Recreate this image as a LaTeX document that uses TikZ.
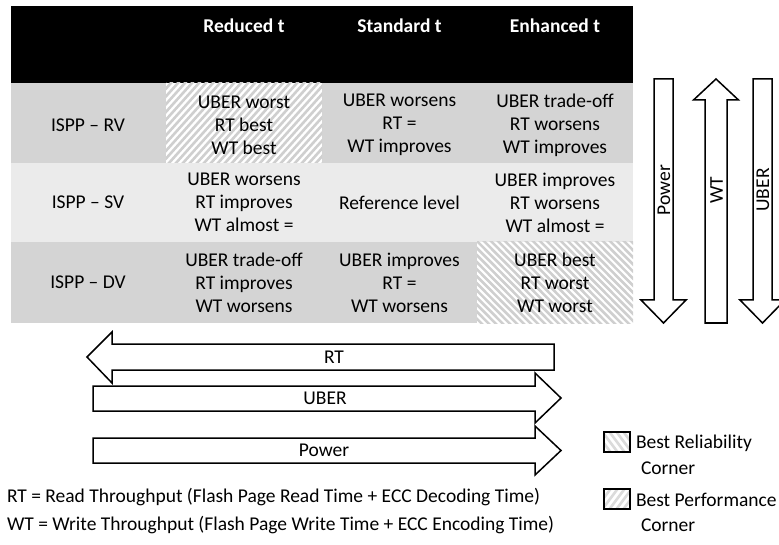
\documentclass[tikz,border=0pt]{standalone}
\usepackage{fontspec}
\setmainfont{Carlito}
\begin{document}
\begin{tikzpicture}[x=1pt,y=-1pt,
  every node/.style={inner sep=0pt,outer sep=0pt,font=\fontsize{19.5}{23}\selectfont},
  cell/.style={align=center},
  head/.style={text=white,font=\fontsize{19.5}{23}\selectfont\bfseries},
  bigarrow/.style={draw=black,line width=1.5pt,fill=white,line join=miter},
  stripe/.style={line width=2.6pt,color=black!19},
  keybox/.style={draw=black,line width=1.6pt}]
\useasboundingbox (0,0) rectangle (779,545);

% --- table backgrounds
\fill[black] (11,6) rectangle (633,83);
\fill[black!17] (11,83) rectangle (633,163);
\fill[black!8] (11,163) rectangle (633,242);
\fill[black!17] (11,242) rectangle (633,323);

% hatched corner cells
\begin{scope}
  \clip (166,83) rectangle (322,163);
  \fill[white] (166,83) rectangle (322,163);
  \foreach \k in {0,7,...,260} \draw[stripe] (166+\k-90,173) -- (166+\k,73);
\end{scope}
\begin{scope}
  \clip (477,242) rectangle (633,323);
  \fill[white] (477,242) rectangle (633,323);
  \foreach \k in {0,7,...,260} \draw[stripe] (477+\k-100,232) -- (477+\k,333);
\end{scope}

% --- header row
\node[head] (hR) at (244,26) {Reduced t};
\node[head] (hS) at (399.5,26) {Standard t};
\node[head] (hE) at (555,26) {Enhanced t};

% --- row labels
\node (rRV) at (88,125) {ISPP -- RV};
\node (rSV) at (88,202.5) {ISPP -- SV};
\node (rDV) at (88,282.5) {ISPP -- DV};

% --- cells
\node[cell] (c11) at (244,125) {UBER worst\\RT best\\WT best};
\node[cell] (c12) at (399.5,125) {UBER worsens\\RT =\\WT improves};
\node[cell] (c13) at (555,125) {UBER trade-off\\RT worsens\\WT improves};
\node[cell] (c21) at (244,202.5) {UBER worsens\\RT improves\\WT almost =};
\node[cell] (c22) at (399.5,202.5) {Reference level};
\node[cell] (c23) at (555,202.5) {UBER improves\\RT worsens\\WT almost =};
\node[cell] (c31) at (244,282.5) {UBER trade-off\\RT improves\\WT worsens};
\node[cell] (c32) at (399.5,282.5) {UBER improves\\RT =\\WT worsens};
\node[cell] (c33) at (555,282.5) {UBER best\\RT worst\\WT worst};

% --- vertical block arrows
\draw[bigarrow] (654,79) -- (673,79) -- (673,300) -- (686,300) -- (663.5,323)
  -- (641,300) -- (654,300) -- cycle;
\draw[bigarrow] (705,323) -- (727,323) -- (727,100) -- (738.5,100) -- (716,79)
  -- (693.5,100) -- (705,100) -- cycle;
\draw[bigarrow] (753,79) -- (772,79) -- (772,300) -- (785,300) -- (762.5,323)
  -- (740,300) -- (753,300) -- cycle;
\node[rotate=90] (vP) at (664,190) {Power};
\node[rotate=90] (vW) at (716.5,190) {WT};
\node[rotate=90] (vU) at (763,190) {UBER};

% --- horizontal block arrows
\draw[bigarrow] (554,344) -- (554,370) -- (112,370) -- (112,383) -- (87,357)
  -- (112,332) -- (112,344) -- cycle;
\draw[bigarrow] (93,386) -- (535,386) -- (535,373) -- (561,398) -- (535,423)
  -- (535,411) -- (93,411) -- cycle;
\draw[bigarrow] (93,438) -- (535,438) -- (535,426) -- (561,450.5) -- (535,475)
  -- (535,463) -- (93,463) -- cycle;
\node (hRT) at (334,357) {RT};
\node (hUB) at (325,398.5) {UBER};
\node (hPW) at (324,450.5) {Power};

% --- legend
\begin{scope}
  \clip (604,432) rectangle (630,452);
  \foreach \k in {0,7,...,60} \draw[stripe,color=black!14] (604+\k-30,422) -- (604+\k,462);
\end{scope}
\draw[keybox] (604,432) rectangle (630,452);
\begin{scope}
  \clip (604,489) rectangle (630,509);
  \foreach \k in {0,7,...,60} \draw[stripe,color=black!14] (604+\k-30,519) -- (604+\k,479);
\end{scope}
\draw[keybox] (604,489) rectangle (630,509);
\node[anchor=west] (kR) at (636,443) {Best Reliability};
\node[anchor=west] (kRc) at (641,468.5) {Corner};
\node[anchor=west] (kP) at (636,499.5) {Best Performance};
\node[anchor=west] (kPc) at (641,525) {Corner};

% --- footnotes
\node[anchor=west] (nRT) at (7,497) {RT = Read Throughput (Flash Page Read Time + ECC Decoding Time)};
\node[anchor=west] (nWT) at (7,525) {WT = Write Throughput (Flash Page Write Time + ECC Encoding Time)};
\end{tikzpicture}
\end{document}
